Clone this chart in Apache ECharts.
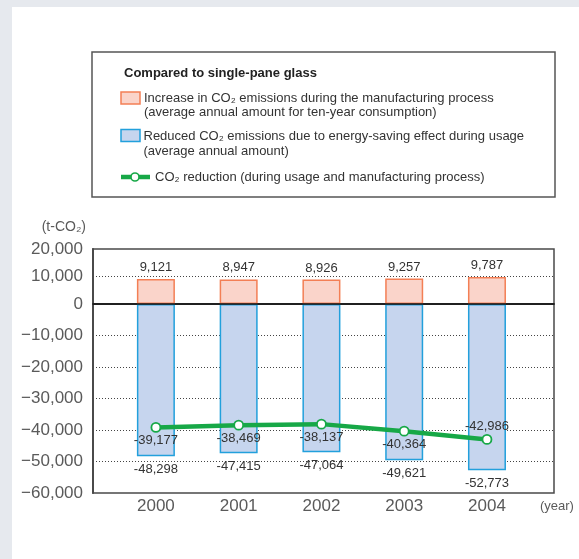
<!DOCTYPE html>
<html>
<head>
<meta charset="utf-8">
<script src="https://cdn.jsdelivr.net/npm/echarts@6/dist/echarts.min.js"></script>
<style>
  html, body { margin: 0; padding: 0; background: #e6e9ee; }
  #bg { position: absolute; left: 12px; top: 7px; width: 567px; height: 552px; background: #ffffff; }
  #chart { position: absolute; left: 0; top: 0; width: 579px; height: 559px; }
</style>
</head>
<body>
<div id="bg"></div>
<div id="chart"></div>
<script>
// ---- data ----
const years = [2000, 2001, 2002, 2003, 2004];
const increase = [9121, 8947, 8926, 9257, 9787];
const reduced = [-48298, -47415, -47064, -49621, -52773];
const netReduction = [-39177, -38469, -38137, -40364, -42986];
const upperRange = [0, 20000];
const lowerRange = [-60000, 0];
const tickStep = 10000;
const legendTitle = 'Compared to single-pane glass';
const legendIncrease = ['Increase in CO\u2082 emissions during the manufacturing process', '(average annual amount for ten-year consumption)'];
const legendReduced = ['Reduced CO\u2082 emissions due to energy-saving effect during usage', '(average annual amount)'];
const legendLine = 'CO\u2082 reduction (during usage and manufacturing process)';
const yUnit = '(t-CO\u2082)';
const xUnit = '(year)';

// ---- styling ----
const FONT = '"Liberation Sans", Arial, sans-serif';
const PINK = '#fad4ca', ORANGE = '#f37f55';
const BLUE = '#c6d5ee', CYAN = '#22a0dc';
const GREEN = '#17a847';
const AXIS_TXT = '#5a5a5a';
const fmt = v => v.toLocaleString('en-US');
const axisFmt = v => fmt(v).replace('-', '\u2212');

const xMin = 1999.24, xMax = 2004.81;

const chart = echarts.init(document.getElementById('chart'), null, { renderer: 'canvas' });

const dottedLower = ['rgba(0,0,0,0)'];
for (let i = 1; i < 6; i++) dottedLower.push('#444');
dottedLower.push('rgba(0,0,0,0)');

const legendText = (x, y, text) => ({
  type: 'text', x, y, z: 2,
  style: { text, fontFamily: FONT, fontSize: 13, fill: '#333', align: 'left', verticalAlign: 'middle' }
});

const option = {
  backgroundColor: 'transparent',
  animation: false,
  grid: [
    { left: 93, top: 249, width: 461, height: 55, show: true, borderColor: '#4a4a4a', borderWidth: 1.5, backgroundColor: 'transparent' },
    { left: 93, top: 304, width: 461, height: 189, show: true, borderColor: '#4a4a4a', borderWidth: 1.5, backgroundColor: 'transparent' }
  ],
  xAxis: [
    {
      gridIndex: 0, type: 'value', min: xMin, max: xMax,
      axisLabel: { show: false }, axisTick: { show: false }, splitLine: { show: false },
      axisLine: { show: true, onZero: false, lineStyle: { color: '#111', width: 1.5 } },
      z: 5
    },
    {
      gridIndex: 1, type: 'value', min: xMin, max: xMax, position: 'bottom',
      axisLine: { show: false, onZero: false },
      axisTick: { show: false }, splitLine: { show: false },
      axisLabel: {
        customValues: years, formatter: v => String(v),
        fontFamily: FONT, fontSize: 17, color: AXIS_TXT, margin: 5
      },
      name: xUnit, nameLocation: 'end', nameGap: -14,
      nameTextStyle: { fontFamily: FONT, fontSize: 13, color: AXIS_TXT, align: 'left', verticalAlign: 'top', padding: [7, 0, 0, 0] }
    }
  ],
  yAxis: [
    {
      gridIndex: 0, type: 'value', min: upperRange[0], max: upperRange[1], interval: tickStep,
      axisLine: { show: true, onZero: false, lineStyle: { color: '#4a4a4a', width: 2 } },
      axisTick: { show: false },
      axisLabel: { formatter: axisFmt, fontFamily: FONT, fontSize: 17, color: AXIS_TXT, margin: 10 },
      splitLine: { show: true, lineStyle: { color: ['rgba(0,0,0,0)', '#444', 'rgba(0,0,0,0)'], type: [1, 2], width: 1 } },
      name: yUnit, nameLocation: 'end', nameGap: 22,
      nameTextStyle: { fontFamily: FONT, fontSize: 14, color: AXIS_TXT, align: 'right', verticalAlign: 'middle', padding: [0, 7, 0, 0] }
    },
    {
      gridIndex: 1, type: 'value', min: lowerRange[0], max: lowerRange[1], interval: tickStep,
      axisLine: { show: true, onZero: false, lineStyle: { color: '#4a4a4a', width: 2 } },
      axisTick: { show: false },
      axisLabel: { formatter: axisFmt, fontFamily: FONT, fontSize: 17, color: AXIS_TXT, margin: 10, showMaxLabel: false },
      splitLine: { show: true, lineStyle: { color: dottedLower, type: [1, 2], width: 1 } }
    }
  ],
  series: [
    {
      name: legendIncrease[0], type: 'bar', xAxisIndex: 0, yAxisIndex: 0,
      barWidth: 38,
      data: years.map((y, i) => [y, increase[i]]),
      itemStyle: { color: PINK, borderColor: ORANGE, borderWidth: 1.5 },
      label: { show: true, position: 'top', distance: 5, formatter: p => fmt(p.value[1]), fontFamily: FONT, fontSize: 13, color: '#333' },
      z: 2
    },
    {
      name: legendReduced[0], type: 'bar', xAxisIndex: 1, yAxisIndex: 1,
      barWidth: 38,
      data: years.map((y, i) => [y, reduced[i]]),
      itemStyle: { color: BLUE, borderColor: CYAN, borderWidth: 1.5 },
      label: { show: true, position: 'bottom', distance: 7, formatter: p => fmt(p.value[1]), fontFamily: FONT, fontSize: 13, color: '#333' },
      z: 2
    },
    {
      name: legendLine, type: 'line', xAxisIndex: 1, yAxisIndex: 1,
      data: years.map((y, i) => (i === years.length - 1 ? { value: [y, netReduction[i]], label: { position: 'top' } } : { value: [y, netReduction[i]] })),
      lineStyle: { color: GREEN, width: 4.5 },
      symbol: 'circle', symbolSize: 9,
      itemStyle: { color: '#fff', borderColor: GREEN, borderWidth: 1.8 },
      label: { show: true, position: 'bottom', distance: 1, formatter: p => fmt(p.value[1]), fontFamily: FONT, fontSize: 13, color: '#333' },
      z: 4
    }
  ],
  graphic: [
    { type: 'rect', shape: { x: 92, y: 52, width: 463, height: 145 }, style: { fill: '#fff', stroke: '#555', lineWidth: 1.5 }, z: 1 },
    { type: 'text', x: 124, y: 73, z: 2, style: { text: legendTitle, fontFamily: FONT, fontWeight: 'bold', fontSize: 13, fill: '#222', align: 'left', verticalAlign: 'middle' } },
    { type: 'rect', shape: { x: 121, y: 92, width: 19, height: 12 }, style: { fill: PINK, stroke: ORANGE, lineWidth: 1.5 }, z: 2 },
    legendText(144, 98, legendIncrease[0]),
    legendText(144, 112.5, legendIncrease[1]),
    { type: 'rect', shape: { x: 121, y: 129.5, width: 19, height: 12 }, style: { fill: BLUE, stroke: CYAN, lineWidth: 1.5 }, z: 2 },
    legendText(143.5, 136.5, legendReduced[0]),
    legendText(143.5, 151, legendReduced[1]),
    { type: 'line', shape: { x1: 121, y1: 177, x2: 150, y2: 177 }, style: { stroke: GREEN, lineWidth: 4.5 }, z: 2 },
    { type: 'circle', shape: { cx: 135, cy: 177, r: 4 }, style: { fill: '#fff', stroke: GREEN, lineWidth: 1.6 }, z: 3 },
    legendText(155, 177, legendLine)
  ]
};

chart.setOption(option);
</script>
</body>
</html>
